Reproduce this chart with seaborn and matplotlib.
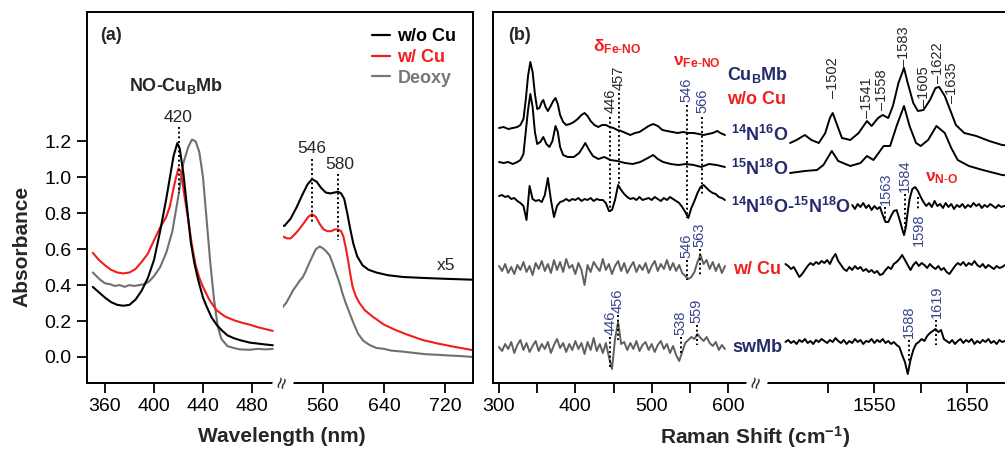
import numpy as np
import matplotlib
matplotlib.use("Agg")
import matplotlib.pyplot as plt
import seaborn as sns
from matplotlib.lines import Line2D

# ---- panel (a): UV-vis, Soret region
soret_wl_wo = [350, 355, 360, 365, 370, 375, 380, 385, 390, 395, 400, 405, 410, 413, 416, 419, 421,
               424, 427, 430, 433, 436, 440, 443, 447, 451, 455, 460, 465, 470, 478, 490, 497]
soret_wo = [0.39, 0.36, 0.33, 0.305, 0.29, 0.285, 0.29, 0.32, 0.37, 0.44, 0.54, 0.70, 0.88, 1.00, 1.12,
            1.19, 1.16, 1.02, 0.83, 0.64, 0.52, 0.43, 0.33, 0.28, 0.22, 0.18, 0.15, 0.12, 0.105, 0.094,
            0.08, 0.07, 0.065]
soret_wl_cu = [350, 355, 360, 365, 370, 375, 380, 385, 390, 395, 400, 405, 410, 413, 416, 418, 420,
               422, 425, 428, 431, 434, 437, 440, 445, 451, 458, 465, 472, 478, 485, 491, 497]
soret_cu = [0.58, 0.54, 0.51, 0.485, 0.47, 0.465, 0.47, 0.49, 0.53, 0.575, 0.65, 0.72, 0.78, 0.84,
            0.94, 1.0, 1.05, 1.03, 0.89, 0.76, 0.62, 0.51, 0.44, 0.39, 0.32, 0.26, 0.225, 0.205, 0.19,
            0.18, 0.165, 0.155, 0.145]
soret_wl_deoxy = [350, 353, 356, 360, 364, 368, 372, 376, 380, 384, 388, 392, 396, 400, 405, 410, 415,
                  420, 424, 428, 431, 434, 437, 440, 443, 446, 449, 452, 455, 460, 465, 470, 478, 485,
                  491, 497]
soret_deoxy = [0.47, 0.45, 0.43, 0.41, 0.405, 0.395, 0.40, 0.39, 0.40, 0.395, 0.40, 0.405, 0.42, 0.45,
               0.50, 0.58, 0.70, 0.90, 1.08, 1.17, 1.21, 1.20, 1.14, 1.00, 0.76, 0.52, 0.32, 0.17, 0.10,
               0.06, 0.05, 0.042, 0.04, 0.045, 0.042, 0.045]

# ---- panel (a): Q-band region (x5)
q_wl_wo = [500, 510, 518, 526, 533, 540, 546, 552, 558, 564, 570, 575, 580, 584, 588, 592, 596, 600,
           605, 612, 620, 630, 645, 665, 690, 720, 756]
q_wo = [0.73, 0.73, 0.77, 0.835, 0.90, 0.96, 0.99, 0.975, 0.94, 0.915, 0.91, 0.915, 0.92, 0.91, 0.88,
        0.80, 0.71, 0.63, 0.56, 0.51, 0.485, 0.47, 0.455, 0.445, 0.44, 0.435, 0.43]
q_wl_cu = [500, 503, 508, 513, 518, 524, 530, 536, 541, 546, 551, 556, 561, 566, 571, 576, 580, 584,
           587, 590, 593, 596, 599, 603, 608, 615, 625, 640, 655, 670, 690, 710, 730, 756]
q_cu = [0.705, 0.68, 0.67, 0.66, 0.66, 0.685, 0.715, 0.75, 0.78, 0.795, 0.78, 0.74, 0.71, 0.70, 0.70,
        0.71, 0.71, 0.70, 0.67, 0.61, 0.54, 0.46, 0.39, 0.34, 0.30, 0.26, 0.225, 0.18, 0.15, 0.125,
        0.095, 0.075, 0.058, 0.038]
q_wl_deoxy = [500, 504, 508, 512, 516, 521, 526, 530, 534, 538, 542, 547, 551, 556, 560, 564, 569,
              573, 578, 582, 586, 590, 595, 600, 606, 613, 621, 630, 640, 650, 664, 680, 695, 710,
              725, 740, 756]
q_deoxy = [0.235, 0.25, 0.28, 0.30, 0.33, 0.37, 0.40, 0.425, 0.445, 0.48, 0.52, 0.565, 0.60, 0.615,
           0.605, 0.59, 0.565, 0.52, 0.46, 0.41, 0.35, 0.30, 0.245, 0.19, 0.13, 0.09, 0.067, 0.05,
           0.045, 0.035, 0.03, 0.022, 0.015, 0.012, 0.008, 0.005, 0.0]

# ---- panel (b): resonance Raman, low-frequency window
rr_lo_x1 = [300, 306, 312, 318, 324, 328, 332, 335, 338, 341, 344, 347, 350, 353, 356, 358, 361, 364,
            367, 371, 374, 377, 380, 384, 388, 393, 398, 403, 408, 412, 416, 420, 425, 430, 435, 440,
            445, 450, 455, 460, 466, 472, 478, 484, 490, 496, 502, 508, 514, 520, 527, 534, 541, 548,
            555, 562, 568, 574, 580, 586, 590, 596]
rr_lo_n14o16 = [0, 1, -1, 0, 1, 3, 9, 28, 52, 66, 56, 34, 19, 20, 26, 28, 21, 17, 21, 27, 30, 24, 13,
                6, 3, 4, 6, 9, 13, 15, 12, 7, 3, 1, 3, 3, 1, 0, -2, -3, -5, -7, -5, -4, -1, 2, 4, 2,
                -2, -3, -4, -5, -4, -5, -5, -6, -7, -6, -5, -3, -5, -7]
rr_lo_x2 = [300, 306, 312, 318, 324, 328, 332, 335, 338, 341, 344, 347, 350, 354, 358, 362, 366, 370,
            374, 377, 380, 384, 390, 398, 405, 410, 413, 418, 423, 430, 438, 446, 455, 465, 475, 485,
            495, 502, 508, 515, 525, 535, 545, 555, 565, 575, 585, 596]
rr_lo_n15o18 = [0, -1, 0, -2, 0, 2, 8, 30, 52, 68, 55, 30, 18, 20, 25, 18, 15, 21, 36, 30, 15, 7, 5,
                5, 9, 15, 19, 12, 6, 3, 5, 2, 1, -1, -2, 0, 4, 7, 3, 0, -2, -3, -2, -3, -5, -2, -3, -5]
rr_lo_grid = np.arange(300, 597, 4)
rr_lo_diff = [2, 3, 1, 2, -1, 0, -3, -5, -8, -22,
              12, -1, -3, -2, -4, 3, 20, -2, -19, -8,
              -4, -3, -1, -3, -1, -2, 0, -3, -1, -2,
              0, -3, -1, -2, -2, -5, -13, -12, -2, 13,
              8, 4, 1, -1, 0, -2, 1, -2, -1, 0,
              -2, 1, -1, -3, 0, -2, 1, -1, -3, -5,
              -9, -14, -20, -10, -3, 5, 11, 13, 10, 7,
              5, 4, 1, 0, -2]
rr_lo_wcu = [2, -3, 4, -5, 1, -6, 3, -2, 6, -4,
             2, -7, 5, -1, 7, -3, 4, -5, 8, -2,
             6, -4, 9, 0, 3, -6, 5, -2, -17, 3,
             -4, 6, 1, -3, 9, -2, 4, -6, 2, 7,
             -3, 5, -5, 1, 6, -4, 3, -2, 5, -5,
             2, 7, -3, 4, -1, 8, -2, 5, -3, 3,
             -5, -8, -11, -9, -4, 6, 13, 4, 8, -1,
             6, -3, 4, -5, 2]
rr_lo_swmb = [0, -4, 3, -2, 5, -6, 2, 7, -3, 4,
              -5, 1, 6, -4, 3, -2, 5, -6, 2, 8,
              -1, 4, -5, 3, -3, 6, -2, 4, -7, 5,
              -3, 9, -4, 3, -6, 4, -10, -22, 8, 25,
              3, 5, -3, 4, -2, 6, -4, 2, 5, -3,
              3, -5, 2, 6, -2, 3, -6, 1, -8, -14,
              -5, 4, 7, 10, 8, 13, 9, 6, 10, 4,
              1, 5, -3, 2, -2]
rr_lo_offsets = [255, 221, 185, 115, 36]

# ---- panel (b): high-frequency window
rr_hi_x1 = [1459, 1466, 1475, 1482, 1490, 1497, 1502, 1505, 1509, 1515, 1524, 1533, 1542, 1547, 1554,
            1559, 1565, 1570, 1576, 1582, 1586, 1592, 1597, 1603, 1610, 1616, 1620, 1626, 1631, 1638,
            1647, 1660, 1674, 1688, 1700, 1715]
rr_hi_n14o16 = [0, 3, 8, 3, 0, 10, 25, 30, 20, 5, 3, 10, 22, 17, 25, 28, 25, 37, 60, 75, 60, 40, 32,
                33, 43, 55, 56, 47, 35, 18, 10, 7, 2, -2, -3, -4]
rr_hi_x2 = [1459, 1475, 1488, 1495, 1504, 1511, 1524, 1535, 1542, 1549, 1560, 1567, 1574, 1582, 1588,
            1595, 1600, 1608, 1617, 1626, 1633, 1640, 1652, 1667, 1688, 1700, 1715]
rr_hi_n15o18 = [0, 2, 3, 8, 22, 12, 7, 10, 17, 13, 27, 27, 47, 67, 47, 30, 27, 33, 47, 40, 25, 13, 7,
                3, -2, -3, -4]
rr_hi_x3 = [1526, 1529, 1532, 1535, 1538, 1541, 1544, 1547, 1550, 1553, 1556, 1559, 1562, 1565, 1568,
            1571, 1574, 1577, 1580, 1582, 1584, 1586, 1588, 1591, 1594, 1597, 1600, 1603, 1606, 1609,
            1612, 1615, 1618, 1621, 1624, 1627, 1630, 1633, 1636, 1639, 1642, 1645, 1648, 1651, 1654,
            1657, 1660, 1663, 1666, 1669, 1672, 1675, 1678, 1681, 1684, 1687, 1690, 1700, 1715]
rr_hi_diff = [2, -2, 3, 0, 4, -1, 2, -3, 1, -2, 0, -8, -15, -15, -9, -4, -3, -12, -22,
              -28, -20, -5, 8,
              18, 20, 16, 10, 5, 1, 4, 0, 6, 1, 3, -1, 4, 0, 3, -2, 2, 0, 3, -1, 2, 0, 4, 1, 3,
              -1, 2, 0, 3, 1, -1, 2, 0, 1,
              0, 1]
rr_hi_grid = np.arange(1454, 1692, 3)
rr_hi_wcu = [3, 1, -2, 0, -5, -10, -7, -3, 1, 4,
             2, 5, 3, 6, 4, 7, 3, 9, 13, 6,
             2, -2, -4, 0, -3, 1, -2, 0, -4, -2,
             -5, -3, -6, -4, -8, -7, -3, 0, -2, 3,
             5, 8, 12, 7, 2, -3, 2, 5, 1, 4,
             2, -1, 3, 0, -2, 1, -3, -1, -5, -7,
             -3, 1, 4, 2, 5, 1, 4, 2, 6, 2,
             0, 3, -1, 2, 0, -2, 1, -1, 0, 2]
rr_hi_swmb = [0, 2, -1, 1, -2, 2, 0, 3, -1, 1,
              -2, 2, 0, 3, 1, -1, 2, 0, 4, 1,
              -1, 2, -2, 1, -1, 3, 0, 2, -2, 1,
              0, 3, -1, 2, 0, 3, -1, 1, -2, 0,
              -3, -5, -13, -20, -32, -18, -8, -2, 0, 3,
              1, 6, 9, 11, 13, 10, 12, 3, 1, -1,
              2, -2, 1, 3, -1, 2, 0, 3, -2, 1,
              -1, 2, 0, 3, -1, 1, -2, 2, 0, 1]
rr_hi_offsets = [240, 210, 176, 116, 41]

# peak marks: (position, label-bottom, dotted line from, to)
a_marks = [(420, 1.29, 1.28, 0.91), (546, 1.12, 1.10, 0.745), (580, 1.03, 1.02, 0.65)]
lo_marks_black = [(446, 270, 266, 171), (457, 293, 290, 195)]
lo_marks_blue = [(546, 281, 278, 165), (566, 270, 266, 187),
                 (546, 125, 123, 103), (563, 136, 134, 108),
                 (446, 48, 46, 15), (456, 70, 68, 43), (538, 48, 46, 28), (559, 60, 58, 38)]
hi_peaks = [(1505, 1502, 285), (1542, 1541, 265), (1558, 1558, 273), (1582, 1583, 316),
            (1604, 1605, 276), (1619, 1622, 300), (1634, 1635, 280)]
hi_marks_blue = [(1562, 1563, 178, 176, 163), (1583, 1584, 191, 189, 155),
                 (1587, 1588, 45, 43, 21), (1617, 1619, 65, 63, 38)]

sns.set_theme(style="ticks")
plt.rcParams["font.family"] = ["Liberation Sans", "DejaVu Sans"]
plt.rcParams["mathtext.fontset"] = "custom"
plt.rcParams["mathtext.rm"] = "Liberation Sans"
plt.rcParams["mathtext.bf"] = "Liberation Sans:bold"
plt.rcParams["mathtext.it"] = "Liberation Sans:italic"

NAVY = "#232a6b"
BLUE = "#36458c"
RED = "#f21d1d"
GRAY = "#5f5f5f"
DOT = (0, (1, 1.4))

W, H = 1005, 451
fig = plt.figure(figsize=(W / 100, H / 100), dpi=100)
fig.patch.set_facecolor("white")


def box(x0, x1, y0=12, y1=383):
    return [x0 / W, 1 - y1 / H, (x1 - x0) / W, (y1 - y0) / H]


def style(ax, left, right):
    for side in ["top", "bottom"]:
        ax.spines[side].set_linewidth(1.4)
        ax.spines[side].set_color("black")
    ax.spines["left"].set_visible(left)
    ax.spines["right"].set_visible(right)
    for side in ["left", "right"]:
        ax.spines[side].set_linewidth(1.4)
        ax.spines[side].set_color("black")
    ax.tick_params(axis="both", direction="out", length=7, width=1.3, labelsize=14,
                   colors="black", pad=4)
    ax.set_xlabel("")
    ax.set_ylabel("")
    ax.set_facecolor("white")


def trace(ax, x, y, off, color, lw=1.4):
    sns.lineplot(x=np.asarray(x, float), y=off + np.asarray(y, float), ax=ax, color=color,
                 lw=lw, estimator=None, sort=False, legend=False)


# ---------------- panel (a)
axa1 = fig.add_axes(box(87, 283))
axa2 = fig.add_axes(box(283, 473))

for ax, sets in [(axa1, [(soret_wl_deoxy, soret_deoxy, "#707070"),
                         (soret_wl_cu, soret_cu, RED),
                         (soret_wl_wo, soret_wo, "black")]),
                 (axa2, [(q_wl_deoxy, q_deoxy, "#707070"),
                         (q_wl_cu, q_cu, RED),
                         (q_wl_wo, q_wo, "black")])]:
    for x, y, c in sets:
        trace(ax, x, y, 0, c, lw=1.5)
    ax.set_ylim(-0.145, 1.92)

axa1.set_xlim(345.3, 505.3)
axa2.set_xlim(508, 756.4)
axa1.set_xticks([360, 400, 440, 480])
axa1.set_yticks([0, 0.2, 0.4, 0.6, 0.8, 1.0, 1.2])
axa1.set_yticklabels([f"{v:.1f}" for v in [0, 0.2, 0.4, 0.6, 0.8, 1.0, 1.2]])
axa2.set_xticks([560, 640, 720])
axa2.set_yticks([])
style(axa1, True, False)
style(axa2, False, True)

for pos, tb, d0, d1 in a_marks:
    ax = axa1 if pos < 500 else axa2
    ax.plot([pos, pos], [d0, d1], color="black", lw=1.4, ls=DOT)
    ax.text(pos + (2 if pos == 580 else 0), tb, str(pos), ha="center", va="bottom", fontsize=12.5)
axa2.text(721, 0.51, "x5", ha="center", va="center", fontsize=12.5)
axa1.text(418, 1.51, r"NO-Cu$_\mathregular{B}$Mb", ha="center", va="center", fontsize=13,
          fontweight="bold")

handles = [Line2D([], [], color="black", lw=1.6), Line2D([], [], color=RED, lw=1.6),
           Line2D([], [], color="#777777", lw=1.6)]
axa2.legend(handles, ["w/o Cu", "w/ Cu", "Deoxy"], loc="upper right",
            bbox_to_anchor=(0.95, 0.975), frameon=False, handlelength=1.0, handletextpad=0.4,
            labelspacing=0.2, borderaxespad=0, labelcolor=["black", RED, "#777777"],
            prop={"weight": "bold", "size": 13})

# ---------------- panel (b)
axb1 = fig.add_axes(box(493, 757))
axb2 = fig.add_axes(box(757, 1030))

lo_sets = [(rr_lo_x1, rr_lo_n14o16, "black"), (rr_lo_x2, rr_lo_n15o18, "black"),
           (rr_lo_grid, rr_lo_diff, "black"), (rr_lo_grid, rr_lo_wcu, GRAY),
           (rr_lo_grid, rr_lo_swmb, GRAY)]
for (x, y, c), off in zip(lo_sets, rr_lo_offsets):
    trace(axb1, x, y, off, c, lw=1.4)
hi_sets = [(rr_hi_x1, rr_hi_n14o16), (rr_hi_x2, rr_hi_n15o18), (rr_hi_x3, rr_hi_diff),
           (rr_hi_grid, rr_hi_wcu), (rr_hi_grid, rr_hi_swmb)]
for (x, y), off in zip(hi_sets, rr_hi_offsets):
    trace(axb2, x, y, off, "black", lw=1.4)

for ax in (axb1, axb2):
    ax.set_ylim(0, 371)
    ax.set_yticks([])
axb1.set_xlim(292.1, 638)
axb2.set_xlim(1423.3, 1718)
axb1.set_xticks([300, 350, 400, 450, 500, 550, 600])
axb1.set_xticklabels(["300", "", "400", "", "500", "", "600"])
axb2.set_xticks([1500, 1550, 1600, 1650])
axb2.set_xticklabels(["", "1550", "", "1650"])
style(axb1, True, False)
style(axb2, False, False)

for pos, tb, d0, d1 in lo_marks_black:
    axb1.plot([pos, pos], [d0, d1], color="black", lw=1.4, ls=DOT)
    axb1.text(pos, tb, str(pos), rotation=90, ha="center", va="bottom", fontsize=10.5)
for pos, tb, d0, d1 in lo_marks_blue:
    axb1.plot([pos, pos], [d0, d1], color="black", lw=1.4, ls=DOT)
    axb1.text(pos, tb, str(pos), rotation=90, ha="center", va="bottom", fontsize=10.5,
              color=BLUE)
for pos, lab, tb in hi_peaks:
    axb2.text(pos, tb, "–" + str(lab), rotation=90, ha="center", va="bottom", fontsize=10.5)
for pos, lab, tb, d0, d1 in hi_marks_blue:
    axb2.plot([pos, pos], [d0, d1], color="black", lw=1.4, ls=DOT)
    axb2.text(pos, tb, str(lab), rotation=90, ha="center", va="bottom", fontsize=10.5, color=BLUE)
axb2.plot([1597, 1597], [186, 172], color="black", lw=1.4, ls=DOT)
axb2.text(1598, 170, "1598", rotation=90, ha="center", va="top", fontsize=10.5, color=BLUE)

axb1.text(455, 336, r"δ$_\mathregular{Fe\text{-}NO}$", ha="center", va="center", fontsize=12.5,
          color=RED, fontweight="bold")
axb1.text(559, 321, r"ν$_\mathregular{Fe\text{-}NO}$", ha="center", va="center", fontsize=12.5,
          color=RED, fontweight="bold")
axb2.text(1623, 205, r"ν$_\mathregular{N\text{-}O}$", ha="center", va="center", fontsize=12.5,
          color=RED, fontweight="bold")

# sample labels between the two Raman windows
fx = lambda px: px / W
fy = lambda py: 1 - py / H
names = [(727, 75, r"Cu$_\mathregular{B}$Mb", NAVY),
         (727, 100, "w/o Cu", RED),
         (731, 135, r"$\mathregular{^{14}N^{16}O}$", NAVY),
         (731, 169, r"$\mathregular{^{15}N^{18}O}$", NAVY),
         (731, 207, r"$\mathregular{^{14}N^{16}O}$-$\mathregular{^{15}N^{18}O}$", NAVY),
         (733, 270, "w/ Cu", RED),
         (732, 348, "swMb", NAVY)]
for px, py, s, c in names:
    fig.text(fx(px), fy(py), s, ha="left", va="center", fontsize=13, fontweight="bold", color=c)

# panel letters, axis titles, axis breaks
fig.text(fx(100), fy(36), "(a)", ha="left", va="center", fontsize=13, fontweight="bold")
fig.text(fx(508), fy(36), "(b)", ha="left", va="center", fontsize=13, fontweight="bold")
fig.text(fx(282), fy(437), "Wavelength (nm)", ha="center", va="center", fontsize=15,
         fontweight="bold")
fig.text(fx(755), fy(437), r"Raman Shift (cm$^{\mathregular{-1}}$)", ha="center", va="center",
         fontsize=15, fontweight="bold")
fig.text(fx(22), fy(246), "Absorbance", ha="center", va="center", rotation=90, fontsize=15,
         fontweight="bold")
for px in (283, 757):
    fig.text(fx(px), fy(383), "≈", ha="center", va="center", rotation=75, fontsize=15,
             bbox=dict(facecolor="white", edgecolor="none", pad=0.5))

fig.savefig("out.png", dpi=100, facecolor="white")
